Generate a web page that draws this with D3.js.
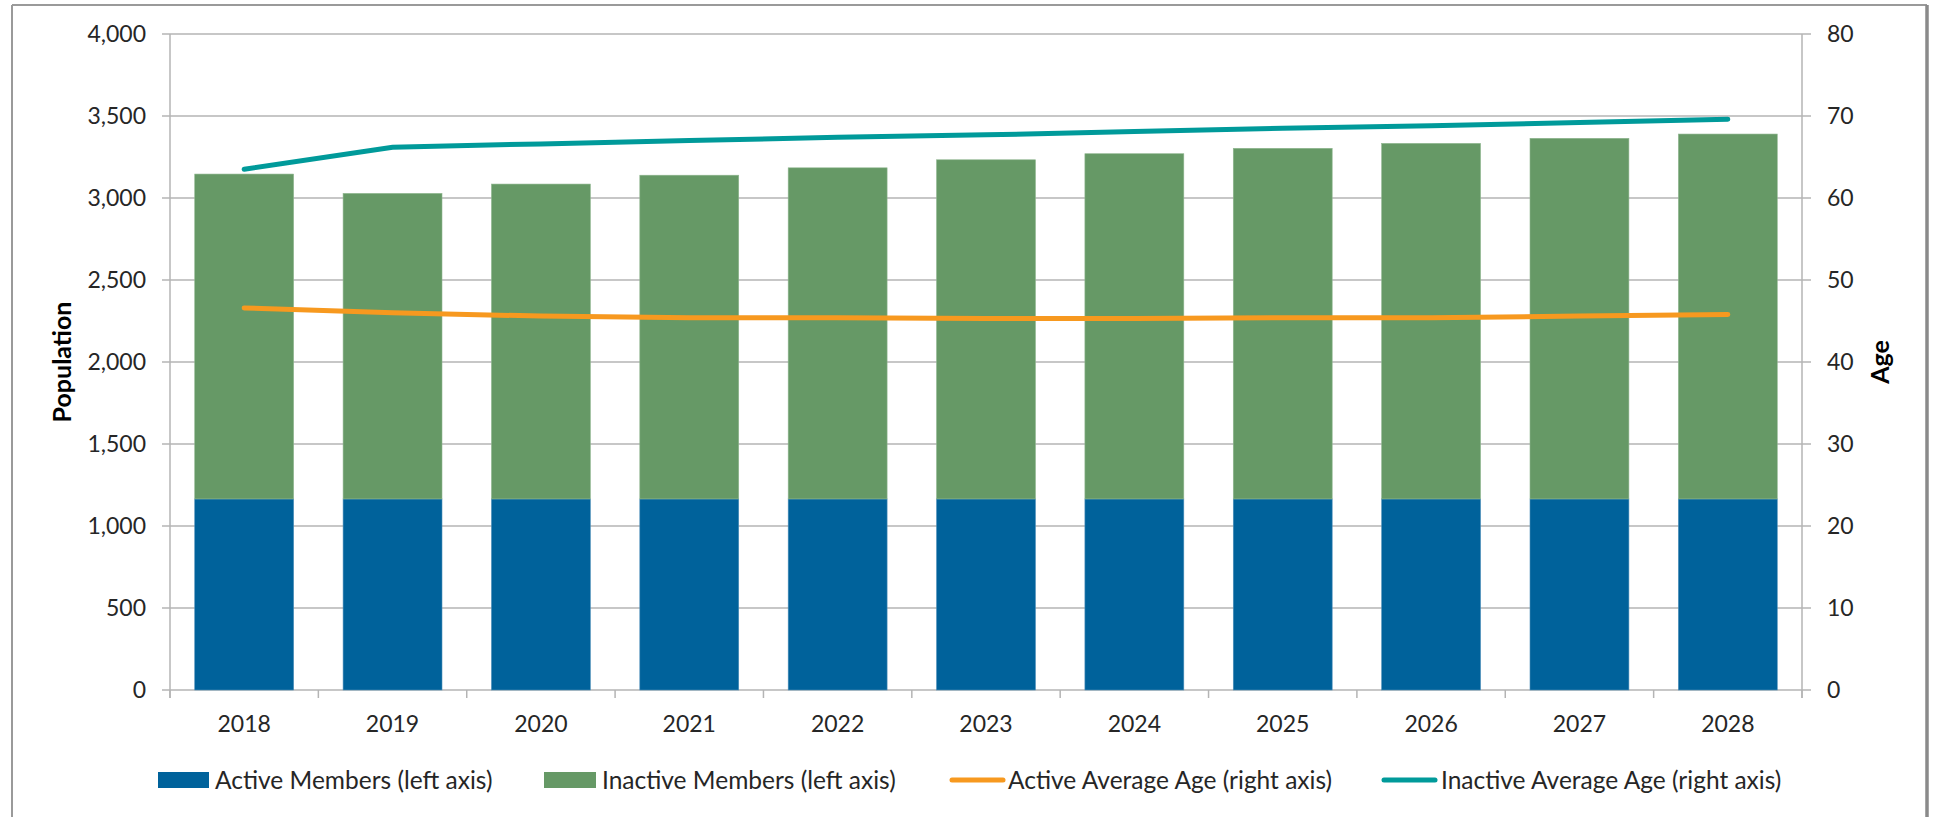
<!DOCTYPE html>
<html>
<head>
<meta charset="utf-8">
<script src="https://cdn.jsdelivr.net/npm/d3@7"></script>
<style>
  html, body { margin: 0; padding: 0; background: #fff; }
  svg { display: block; font-family: Lato, "Open Sans", sans-serif; }
</style>
</head>
<body>
<svg id="chart" width="1935" height="817"></svg>
<script>
// ---- data ----
const years = ["2018","2019","2020","2021","2022","2023","2024","2025","2026","2027","2028"];
const activeMembers   = [1165, 1165, 1165, 1165, 1165, 1165, 1165, 1165, 1165, 1165, 1165];
const inactiveMembers = [1981, 1863, 1920, 1974, 2019, 2068, 2105, 2138, 2168, 2199, 2225];
const activeAvgAge    = [46.6, 46.0, 45.6, 45.4, 45.4, 45.3, 45.3, 45.4, 45.4, 45.6, 45.8];
const inactiveAvgAge  = [63.5, 66.2, 66.6, 67.0, 67.4, 67.7, 68.1, 68.5, 68.8, 69.2, 69.6];
const leftTicks  = [0, 500, 1000, 1500, 2000, 2500, 3000, 3500, 4000];
const rightTicks = [0, 10, 20, 30, 40, 50, 60, 70, 80];
const seriesNames = ["Active Members (left axis)", "Inactive Members (left axis)",
                     "Active Average Age (right axis)", "Inactive Average Age (right axis)"];

const colors = { active: "#00629b", inactive: "#669966", activeAge: "#f7991f", inactiveAge: "#009a9a" };
const gridColor = "#b4b4b4";

const svg = d3.select("#chart");
const plot = { left: 170, right: 1802, top: 34, bottom: 690 };

// outer frame
svg.append("line").attr("x1", 12).attr("x2", 12).attr("y1", 5).attr("y2", 817)
  .attr("stroke", "#9a9a9a").attr("stroke-width", 2);
svg.append("line").attr("x1", 12).attr("x2", 1927).attr("y1", 5).attr("y2", 5)
  .attr("stroke", "#9a9a9a").attr("stroke-width", 2);
svg.append("line").attr("x1", 1927).attr("x2", 1927).attr("y1", 5).attr("y2", 817)
  .attr("stroke", "#8a8a8a").attr("stroke-width", 3.5);

const x = d3.scaleBand().domain(years).range([plot.left, plot.right]).paddingInner(1/3).paddingOuter(1/6);
const xEdge = d3.scaleLinear().domain([0, years.length]).range([plot.left, plot.right]);
const yL = d3.scaleLinear().domain([0, 4000]).range([plot.bottom, plot.top]);
const yR = d3.scaleLinear().domain([0, 80]).range([plot.bottom, plot.top]);

// gridlines + tick marks (span across both tick extents)
svg.append("g").selectAll("line").data(leftTicks).join("line")
  .attr("x1", plot.left - 8).attr("x2", plot.right + 9)
  .attr("y1", d => yL(d)).attr("y2", d => yL(d))
  .attr("stroke", gridColor).attr("stroke-width", 1.5);

// vertical axis lines
svg.append("line").attr("x1", plot.left).attr("x2", plot.left).attr("y1", plot.top).attr("y2", plot.bottom + 8)
  .attr("stroke", gridColor).attr("stroke-width", 1.5);
svg.append("line").attr("x1", plot.right).attr("x2", plot.right).attr("y1", plot.top).attr("y2", plot.bottom + 8)
  .attr("stroke", gridColor).attr("stroke-width", 1.5);
// x-axis category ticks
svg.append("g").selectAll("line").data(d3.range(years.length + 1)).join("line")
  .attr("x1", d => xEdge(d)).attr("x2", d => xEdge(d))
  .attr("y1", plot.bottom).attr("y2", plot.bottom + 8)
  .attr("stroke", gridColor).attr("stroke-width", 1.5);

// bars
const stackData = years.map((y, i) => ({ year: y, active: activeMembers[i], inactive: inactiveMembers[i] }));
const stacked = d3.stack().keys(["active", "inactive"])(stackData);
const barG = svg.append("g");
stacked.forEach(layer => {
  barG.append("g").selectAll("rect").data(layer).join("rect")
    .attr("x", d => x(d.data.year))
    .attr("width", x.bandwidth())
    .attr("y", d => yL(d[1]))
    .attr("height", d => yL(d[0]) - yL(d[1]))
    .attr("fill", colors[layer.key])
    .attr("stroke", layer.key === "active" ? "#4d8fba" : "#8fb68f")
    .attr("stroke-width", 0.6);
});

// lines
const line = d3.line().x((d, i) => x(years[i]) + x.bandwidth() / 2).y(d => yR(d)).curve(d3.curveLinear);
svg.append("path").datum(activeAvgAge).attr("d", line)
  .attr("fill", "none").attr("stroke", colors.activeAge).attr("stroke-width", 5).attr("stroke-linecap", "round");
svg.append("path").datum(inactiveAvgAge).attr("d", line)
  .attr("fill", "none").attr("stroke", colors.inactiveAge).attr("stroke-width", 5).attr("stroke-linecap", "round");

// tick labels
const fmt = d3.format(",");
const fs = 23;
svg.append("g").selectAll("text").data(leftTicks).join("text")
  .attr("x", 146).attr("y", d => yL(d)).attr("dy", "0.36em")
  .attr("text-anchor", "end").attr("font-size", fs).attr("fill", "#262626")
  .text(d => fmt(d));
svg.append("g").selectAll("text").data(rightTicks).join("text")
  .attr("x", 1827).attr("y", d => yR(d)).attr("dy", "0.36em")
  .attr("text-anchor", "start").attr("font-size", fs).attr("fill", "#262626")
  .text(d => d);
svg.append("g").selectAll("text").data(years).join("text")
  .attr("x", d => x(d) + x.bandwidth() / 2).attr("y", 732)
  .attr("text-anchor", "middle").attr("font-size", fs).attr("fill", "#262626")
  .text(d => d);

// axis titles
svg.append("text").attr("transform", "translate(71,362) rotate(-90)")
  .attr("text-anchor", "middle").attr("font-size", 25).attr("font-weight", "bold").attr("fill", "#000")
  .text("Population");
svg.append("text").attr("transform", "translate(1889,362) rotate(-90)")
  .attr("text-anchor", "middle").attr("font-size", 25).attr("font-weight", "bold").attr("fill", "#000")
  .text("Age");

// legend
const legendItems = [
  { name: seriesNames[0], type: "rect", color: colors.active,      x0: 158, x1: 209, tx: 215 },
  { name: seriesNames[1], type: "rect", color: colors.inactive,    x0: 544, x1: 596, tx: 602 },
  { name: seriesNames[2], type: "line", color: colors.activeAge,   x0: 952, x1: 1003, tx: 1008 },
  { name: seriesNames[3], type: "line", color: colors.inactiveAge, x0: 1384, x1: 1435, tx: 1441 }
];
const legendY = 780;
const lg = svg.append("g");
legendItems.forEach(it => {
  if (it.type === "rect") {
    lg.append("rect").attr("x", it.x0).attr("y", legendY - 8).attr("width", it.x1 - it.x0).attr("height", 16)
      .attr("fill", it.color);
  } else {
    lg.append("line").attr("x1", it.x0).attr("x2", it.x1).attr("y1", legendY).attr("y2", legendY)
      .attr("stroke", it.color).attr("stroke-width", 5).attr("stroke-linecap", "round");
  }
  lg.append("text").attr("x", it.tx).attr("y", legendY).attr("dy", "0.36em")
    .attr("font-size", 24.5).attr("fill", "#262626").text(it.name);
});
</script>
</body>
</html>
